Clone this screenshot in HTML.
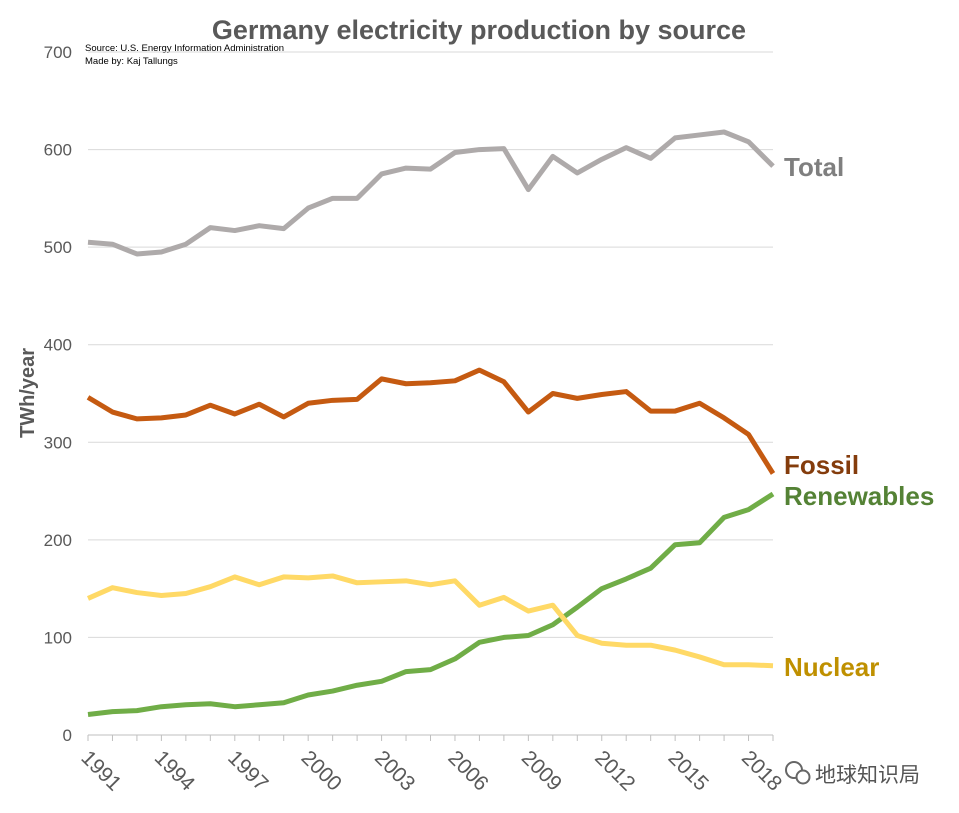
<!DOCTYPE html>
<html><head><meta charset="utf-8"><style>
body{margin:0;background:#fff;}
svg{display:block;font-family:"Liberation Sans","Noto Sans CJK SC",sans-serif;}
</style></head><body>
<svg id="chart" width="959" height="813" viewBox="0 0 959 813">
<text x="479" y="39" text-anchor="middle" font-size="27" font-weight="bold" fill="#595959">Germany electricity production by source</text>
<text x="85" y="51" font-size="9.5" fill="#000">Source: U.S. Energy Information Administration</text>
<text x="85" y="64" font-size="9.5" fill="#000">Made by: Kaj Tallungs</text>
<text transform="translate(34,393) rotate(-90)" text-anchor="middle" font-size="20" font-weight="bold" fill="#595959">TWh/year</text>
<g id="grid"></g><g id="lines"></g><g id="labels"></g>
<g>
<circle cx="794" cy="770" r="8" fill="none" stroke="#666" stroke-width="2"/>
<circle cx="803" cy="777" r="6.5" fill="#fff" stroke="#666" stroke-width="2"/>
<text x="815" y="782" font-size="21" fill="#555">地球知识局</text>
</g>
</svg>
<script>
const years=[1991,1992,1993,1994,1995,1996,1997,1998,1999,2000,2001,2002,2003,2004,2005,2006,2007,2008,2009,2010,2011,2012,2013,2014,2015,2016,2017,2018,2019];
const total=[505,503,493,495,503,520,517,522,519,540,550,550,575,581,580,597,600,601,559,593,576,590,602,591,612,615,618,608,583];
const fossil=[346,331,324,325,328,338,329,339,326,340,343,344,365,360,361,363,374,362,331,350,345,349,352,332,332,340,325,308,268];
const renewables=[21,24,25,29,31,32,29,31,33,41,45,51,55,65,67,78,95,100,102,113,131,150,160,171,195,197,223,231,247];
const nuclear=[140,151,146,143,145,152,162,154,162,161,163,156,157,158,154,158,133,141,127,133,102,94,92,92,87,80,72,72,71];
const yTicks=[0,100,200,300,400,500,600,700];
const xTickLabels=[1991,1994,1997,2000,2003,2006,2009,2012,2015,2018];
const NS="http://www.w3.org/2000/svg";
const X=y=>88+(y-1991)*(773-88)/28;
const Y=v=>735-v*(735-52)/700;
function mk(t,a,p){const e=document.createElementNS(NS,t);for(const k in a)e.setAttribute(k,a[k]);p.appendChild(e);return e;}
const grid=document.getElementById('grid'),lines=document.getElementById('lines'),labels=document.getElementById('labels');
yTicks.forEach(v=>{
 if(v>0){const l=mk('line',{x1:88,x2:773,y1:Y(v),y2:Y(v),stroke:'#d9d9d9','stroke-width':1},grid);
 
 }
 const t=mk('text',{x:72,y:Y(v)+6,'text-anchor':'end','font-size':17,fill:'#595959'},grid);t.textContent=v;
 
 
});
const ax=mk('line',{x1:88,x2:773,y1:735,y2:735,stroke:'#bfbfbf','stroke-width':1},grid);


years.forEach(y=>{const tk=mk('line',{x1:X(y),x2:X(y),y1:735,y2:741,stroke:'#bfbfbf'},grid);
 
 });
xTickLabels.forEach(y=>{
 const t=mk('text',{transform:`translate(${X(y)-8},${759}) rotate(45)`,'font-size':21,fill:'#595959'},grid);t.textContent=y;
 
 
});
const series=[[total,'#aeaaaa','Total','#7f7f7f'],[fossil,'#c55a11','Fossil','#843c0c'],[renewables,'#70ad47','Renewables','#548235'],[nuclear,'#ffd966','Nuclear','#bf9000']];
const labelY={Total:176,Fossil:474,Renewables:505,Nuclear:676};
series.forEach(([d,c,n,lc])=>{
 const p=mk('polyline',{points:d.map((v,i)=>X(years[i])+','+Y(v)).join(' '),fill:'none',stroke:c,'stroke-width':5,'stroke-linejoin':'round'},lines);
 
 
 const t=mk('text',{x:784,y:labelY[n],'font-size':26,'font-weight':'bold',fill:lc},labels);t.textContent=n;
 
 
});
</script>
</body></html>
